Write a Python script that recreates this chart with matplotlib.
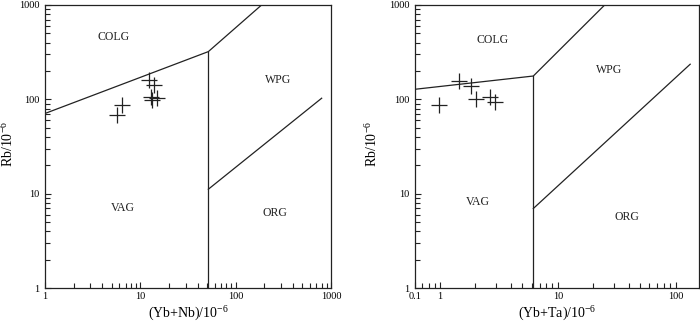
import matplotlib
matplotlib.use("Agg")
import matplotlib.pyplot as plt
from matplotlib.ticker import LogLocator, NullFormatter, FixedLocator, FixedFormatter

plt.rcParams['font.family'] = ['Liberation Serif', 'DejaVu Serif']
plt.rcParams['mathtext.fontset'] = 'custom'
plt.rcParams['mathtext.rm'] = 'Liberation Serif'
plt.rcParams['mathtext.it'] = 'Liberation Serif'

# ---- data: left panel (Yb+Nb vs Rb) ----
ybnb = [5.65, 6.47, 12.4, 14.0, 12.8, 13.4, 15.1]
rb_left = [68.5, 87.5, 161, 143, 107, 98.8, 103]
# boundaries
colg_left_x = [1, 51.7, 187]
colg_left_y = [71, 321, 1000]
vert_left_x = [51.7, 51.7]
vert_left_y = [321, 1]
org_left_x = [51.7, 798]
org_left_y = [11.2, 103]
labels_left = ['COLG', 'WPG', 'VAG', 'ORG']
labpos_left_x = [5.2, 280, 6.5, 259]
labpos_left_y = [462, 161, 7.0, 6.2]

# ---- data: right panel (Yb+Ta vs Rb) ----
ybta = [0.98, 1.46, 1.83, 2.01, 2.66, 2.93]
rb_right = [87.5, 158, 139, 101, 107, 93.5]
colg_right_x = [0.61, 6.2, 25]
colg_right_y = [128, 177, 1000]
vert_right_x = [6.2, 6.2]
vert_right_y = [177, 1]
org_right_x = [6.2, 133]
org_right_y = [7.0, 236]
labels_right = ['COLG', 'WPG', 'VAG', 'ORG']
labpos_right_x = [2.8, 27.3, 2.1, 39]
labpos_right_y = [427, 205, 8.3, 5.7]

xticks_left = [1, 10, 100, 1000]
xticklabels_left = ['1', '10', '100', '1000']
xticks_right = [0.61, 1, 10, 100]
xticklabels_right = ['0.1', '1', '10', '100']
yticks = [1, 10, 100, 1000]
yticklabels = ['1', '10', '100', '1000']

fig = plt.figure(figsize=(7.0, 3.23), dpi=100)
lc = '#222222'

def setup(ax, xlim, xt, xtl, xlabel, ylab_x):
    ax.set_xscale('log')
    ax.set_yscale('log')
    ax.set_xlim(*xlim)
    ax.set_ylim(1, 1000)
    ax.xaxis.set_major_locator(FixedLocator(xt))
    ax.xaxis.set_major_formatter(FixedFormatter(xtl))
    ax.xaxis.set_minor_locator(LogLocator(base=10, subs=range(2, 10)))
    ax.xaxis.set_minor_formatter(NullFormatter())
    ax.yaxis.set_major_locator(FixedLocator(yticks))
    ax.yaxis.set_major_formatter(FixedFormatter(yticklabels))
    ax.yaxis.set_minor_locator(LogLocator(base=10, subs=range(2, 10)))
    ax.yaxis.set_minor_formatter(NullFormatter())
    ax.tick_params(which='both', direction='in', top=False, right=False,
                   labelsize=7.5, color=lc, width=0.8, pad=4)
    ax.tick_params(axis='x', which='both', pad=3)
    ax.tick_params(which='major', length=4.5)
    ax.tick_params(which='minor', length=3.5)
    for s in ax.spines.values():
        s.set_linewidth(0.9)
        s.set_color(lc)
    ax.set_xlabel(xlabel, fontsize=10, va='center')
    ax.set_ylabel(r'Rb/10$^{-6}$', fontsize=10, va='center')
    ax.xaxis.set_label_coords(0.5, -0.092)
    ax.yaxis.set_label_coords(ylab_x, 0.51)

ax1 = fig.add_axes([45/700, 1 - 288.3/323, 286/700, 283.3/323])
setup(ax1, (1, 1000), xticks_left, xticklabels_left, r'(Yb+Nb)/10$^{-6}$', -0.128)
ax1.plot(colg_left_x, colg_left_y, color=lc, lw=0.9)
ax1.plot(vert_left_x, vert_left_y, color=lc, lw=0.9)
ax1.plot(org_left_x, org_left_y, color=lc, lw=0.9)
ax1.plot(ybnb, rb_left, linestyle='none', marker='+', ms=11, mew=0.9, color=lc)
for t, x, y in zip(labels_left, labpos_left_x, labpos_left_y):
    ax1.text(x, y, t, fontsize=8.5, ha='center', va='center', color=lc)

ax2 = fig.add_axes([414.7/700, 1 - 288.3/323, 284.3/700, 283.3/323])
setup(ax2, (0.61, 158), xticks_right, xticklabels_right, r'(Yb+Ta)/10$^{-6}$', -0.151)
ax2.plot(colg_right_x, colg_right_y, color=lc, lw=0.9)
ax2.plot(vert_right_x, vert_right_y, color=lc, lw=0.9)
ax2.plot(org_right_x, org_right_y, color=lc, lw=0.9)
ax2.plot(ybta, rb_right, linestyle='none', marker='+', ms=11, mew=0.9, color=lc)
for t, x, y in zip(labels_right, labpos_right_x, labpos_right_y):
    ax2.text(x, y, t, fontsize=8.5, ha='center', va='center', color=lc)

fig.savefig('out.png', dpi=100)
